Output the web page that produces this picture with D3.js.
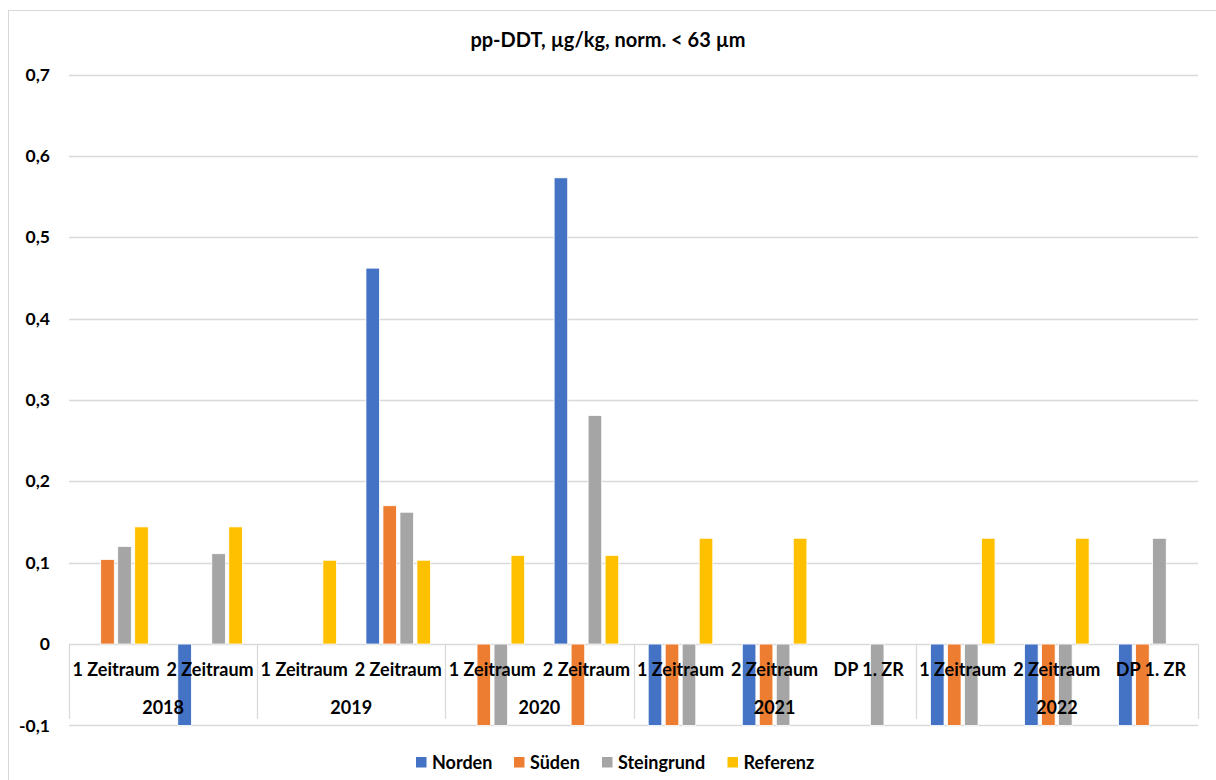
<!DOCTYPE html>
<html><head><meta charset="utf-8">
<script src="https://cdn.jsdelivr.net/npm/d3@7"></script>
<style>html,body{margin:0;padding:0;background:#fff;}svg{display:block;}</style>
</head><body>
<script>
const subLabels = ["1 Zeitraum","2 Zeitraum","1 Zeitraum","2 Zeitraum","1 Zeitraum","2 Zeitraum","1 Zeitraum","2 Zeitraum","DP 1. ZR","1 Zeitraum","2 Zeitraum","DP 1. ZR"];
const yearLabels = ["2018","2018","2019","2019","2020","2020","2021","2021","2021","2022","2022","2022"];
const seriesNames = ["Norden","Süden","Steingrund","Referenz"];
const norden     = [null, -0.1, null, 0.462, null, 0.573, -0.1, -0.1, null, -0.1, -0.1, -0.1];
const sueden     = [0.104, null, null, 0.170, -0.1, -0.1, -0.1, -0.1, null, -0.1, -0.1, -0.1];
const steingrund = [0.120, 0.111, null, 0.162, -0.1, 0.281, -0.1, -0.1, -0.1, -0.1, -0.1, 0.130];
const referenz   = [0.144, 0.144, 0.103, 0.103, 0.109, 0.109, 0.130, 0.130, null, 0.130, 0.130, null];
const yTicks = [-0.1, 0, 0.1, 0.2, 0.3, 0.4, 0.5, 0.6, 0.7];
const colors = ["#4472C4","#ED7D31","#A5A5A5","#FFC000"];
const title = "pp-DDT, µg/kg, norm. < 63 µm";

const W = 1216, H = 780;
const FONT = "Lato, 'Open Sans', sans-serif";
const svg = d3.select("body").append("svg").attr("width", W).attr("height", H);
svg.append("rect").attr("x", 8.5).attr("y", 10.5).attr("width", W).attr("height", H)
  .attr("fill", "#fff").attr("stroke", "#D9D9D9").attr("stroke-width", 1);

const cats = subLabels.map((s, i) => i);
const x0 = d3.scaleBand().domain(cats).range([69, 1198]).padding(0);
const x1 = d3.scaleBand().domain(seriesNames).range([13, 81]).paddingInner(0.2).paddingOuter(0.1);
const y = d3.scaleLinear().domain([-0.1, 0.7]).range([725.4, 74.5]);

// gridlines
svg.append("g").selectAll("line").data(yTicks.filter(t => t !== 0)).join("line")
  .attr("x1", 69).attr("x2", 1198)
  .attr("y1", d => Math.round(y(d)) + 0.5).attr("y2", d => Math.round(y(d)) + 0.5)
  .attr("stroke", "#D9D9D9").attr("stroke-width", 1.3);

// y tick labels
svg.append("g").selectAll("text").data(yTicks).join("text")
  .attr("x", 50).attr("y", d => y(d)).attr("dy", "0.35em")
  .attr("text-anchor", "end").attr("font-family", FONT).attr("font-weight", "bold")
  .attr("font-size", 17.5).attr("fill", "#000")
  .text(d => d3.format(".1f")(d).replace(".", ",").replace("0,0", "0").replace("−", "-"));

// zero axis line + category table lines
const zy = Math.round(y(0)) + 0.5;
svg.append("line").attr("x1", 69).attr("x2", 1198).attr("y1", zy).attr("y2", zy)
  .attr("stroke", "#D9D9D9").attr("stroke-width", 1.3);
const years = Array.from(new Set(yearLabels));
const yearSpans = years.map(yr => {
  const idx = cats.filter(i => yearLabels[i] === yr);
  return {year: yr, x0: x0(idx[0]), x1: x0(idx[idx.length - 1]) + x0.bandwidth()};
});
const seps = [yearSpans[0].x0].concat(yearSpans.map(s => s.x1));
svg.append("g").selectAll("line").data(seps).join("line")
  .attr("x1", d => Math.round(d) + 0.5).attr("x2", d => Math.round(d) + 0.5)
  .attr("y1", zy).attr("y2", 719)
  .attr("stroke", "#D9D9D9").attr("stroke-width", 1.3);

// bars
const seriesData = [norden, sueden, steingrund, referenz];
seriesData.forEach((vals, si) => {
  svg.append("g").selectAll("rect")
    .data(vals.map((v, i) => ({v, i})).filter(d => d.v !== null))
    .join("rect")
    .attr("x", d => x0(d.i) + x1(seriesNames[si]))
    .attr("width", x1.bandwidth())
    .attr("y", d => Math.min(y(d.v), y(0)))
    .attr("height", d => Math.abs(y(d.v) - y(0)))
    .attr("fill", colors[si]).attr("stroke", "#fff").attr("stroke-width", 0.8);
});

// category labels
svg.append("g").selectAll("text").data(cats).join("text")
  .attr("x", d => x0(d) + x0.bandwidth() / 2).attr("y", 670).attr("dy", "0.35em")
  .attr("text-anchor", "middle").attr("font-family", FONT).attr("font-weight", "bold")
  .attr("font-size", 18).attr("fill", "#000").text(d => subLabels[d]);
svg.append("g").selectAll("text").data(yearSpans).join("text")
  .attr("x", d => (d.x0 + d.x1) / 2).attr("y", 708).attr("dy", "0.35em")
  .attr("text-anchor", "middle").attr("font-family", FONT).attr("font-weight", "bold")
  .attr("font-size", 18).attr("fill", "#000").text(d => d.year);

// title
svg.append("text").attr("x", 608).attr("y", 40).attr("dy", "0.35em")
  .attr("text-anchor", "middle").attr("font-family", FONT).attr("font-weight", "bold")
  .attr("font-size", 20).attr("fill", "#000").text(title);

// legend
const legX = [416, 514, 602, 727.5];
const leg = svg.append("g").selectAll("g").data(seriesNames).join("g")
  .attr("transform", (d, i) => `translate(${legX[i]},757)`);
leg.append("rect").attr("width", 10.5).attr("height", 10.5).attr("fill", (d, i) => colors[i]);
leg.append("text").attr("x", 16).attr("y", 5.5).attr("dy", "0.35em")
  .attr("font-family", FONT).attr("font-weight", "bold").attr("font-size", 18)
  .attr("fill", "#000").text(d => d);
</script>
</body></html>
